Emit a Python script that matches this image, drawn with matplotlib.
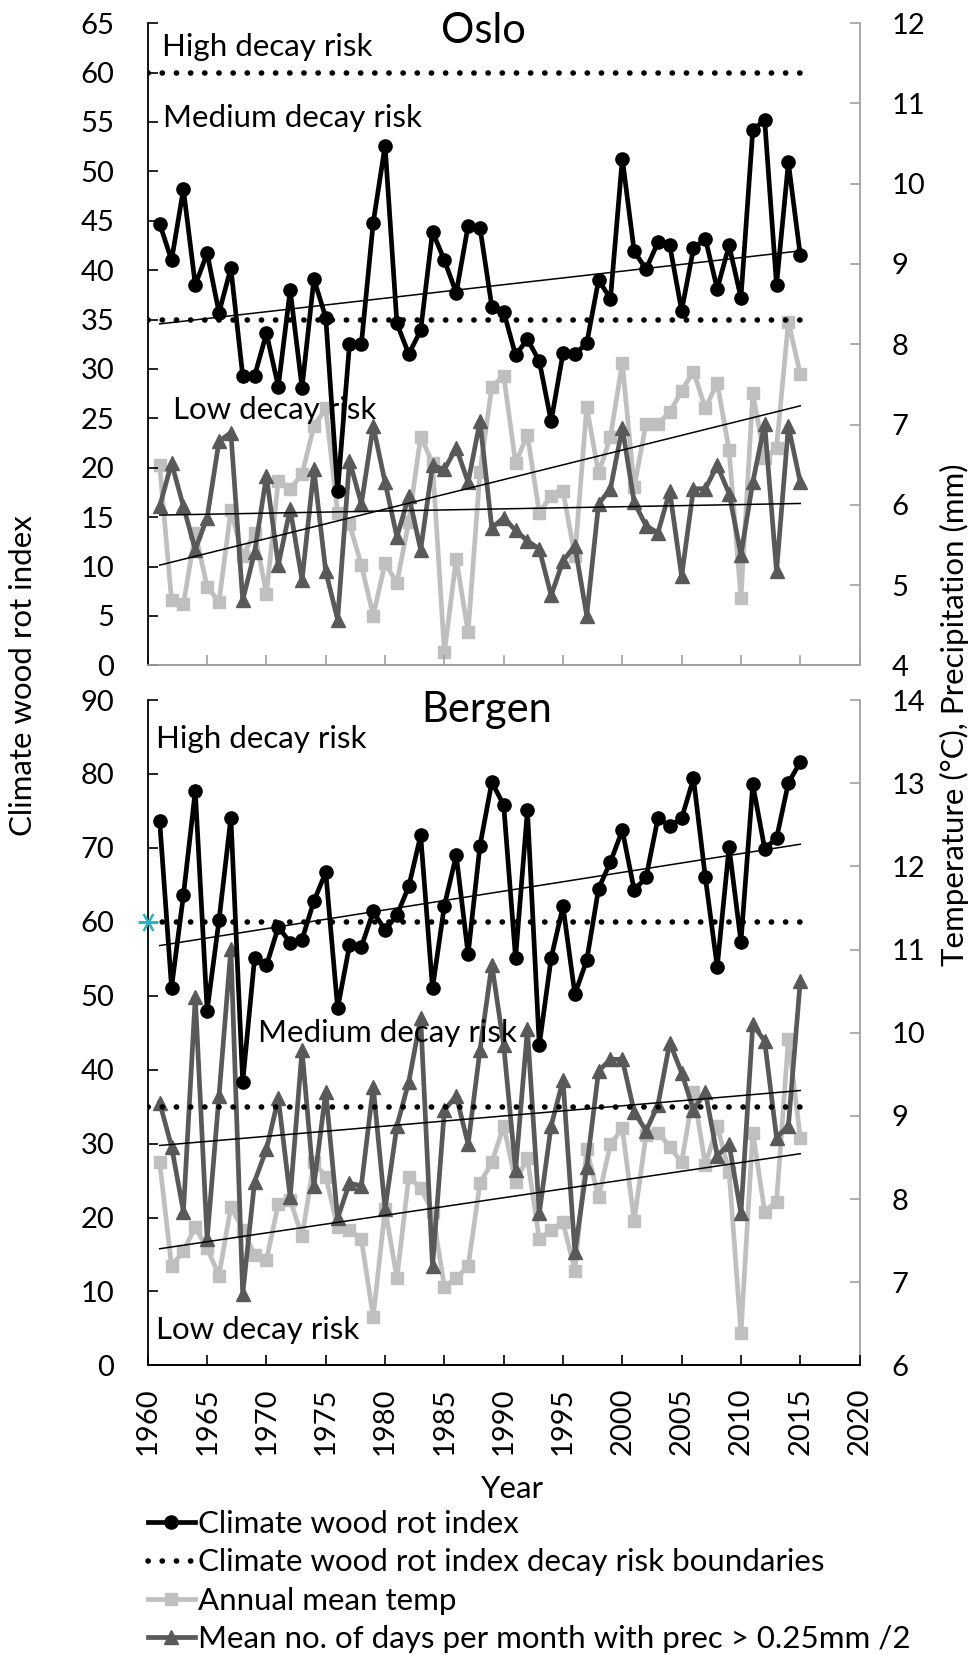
import numpy as np
import matplotlib
matplotlib.use("Agg")
import matplotlib.pyplot as plt
from matplotlib.lines import Line2D

plt.rcParams["font.family"] = ["Lato", "DejaVu Sans"]

years = list(range(1961, 2016))

# Oslo
oslo_cwri = [44.7, 41.0, 48.2, 38.5, 41.7, 35.7, 40.2, 29.3, 29.3, 33.6,
             28.2, 38.0, 28.1, 39.1, 35.2, 17.6, 32.5, 32.5, 44.8, 52.6,
             34.6, 31.5, 33.9, 43.9, 41.0, 37.7, 44.5, 44.3, 36.3, 35.8,
             31.4, 33.0, 30.8, 24.7, 31.6, 31.5, 32.6, 39.0, 37.1, 51.3,
             41.9, 40.1, 42.8, 42.5, 35.9, 42.2, 43.2, 38.1, 42.5, 37.2,
             54.2, 55.2, 38.5, 50.9, 41.5]
oslo_temp = [6.49, 4.81, 4.76, 5.65, 4.98, 4.79, 5.93, 5.36, 5.65, 4.89,
             6.30, 6.20, 6.38, 6.98, 7.20, 5.90, 5.76, 5.25, 4.62, 5.27,
             5.03, 5.79, 6.85, 6.52, 4.16, 5.33, 4.41, 6.41, 7.47, 7.61,
             6.52, 6.87, 5.90, 6.11, 6.17, 5.36, 7.22, 6.39, 6.85, 7.77,
             6.22, 7.01, 7.01, 7.15, 7.42, 7.66, 7.20, 7.52, 6.68, 4.84,
             7.39, 6.58, 6.71, 8.28, 7.63]
oslo_prec = [5.98, 6.52, 5.98, 5.44, 5.84, 6.79, 6.90, 4.81, 5.41, 6.36,
             5.25, 5.95, 5.06, 6.44, 5.17, 4.57, 6.55, 6.01, 6.98, 6.28,
             5.60, 6.11, 5.44, 6.49, 6.44, 6.71, 6.28, 7.04, 5.71, 5.84,
             5.68, 5.55, 5.45, 4.87, 5.30, 5.49, 4.62, 6.01, 6.20, 6.96,
             6.03, 5.74, 5.65, 6.17, 5.11, 6.20, 6.20, 6.49, 6.14, 5.38,
             6.28, 7.01, 5.17, 6.98, 6.28]

# Bergen
bergen_cwri = [73.6, 51.1, 63.6, 77.7, 48.0, 60.2, 74.1, 38.3, 55.1, 54.1,
               59.3, 57.2, 57.6, 62.8, 66.7, 48.3, 56.8, 56.6, 61.4, 58.9,
               60.9, 64.8, 71.7, 51.0, 62.2, 69.0, 55.6, 70.3, 78.9, 75.8,
               55.1, 75.1, 43.3, 55.1, 62.1, 50.2, 54.8, 64.5, 68.1, 72.4,
               64.3, 66.0, 74.0, 73.0, 74.0, 79.4, 66.0, 53.9, 70.1, 57.3,
               78.6, 69.9, 71.3, 78.8, 81.6]
bergen_temp = [8.44, 7.19, 7.38, 7.66, 7.41, 7.08, 7.91, 7.63, 7.33, 7.27,
               7.94, 7.99, 7.55, 8.44, 8.27, 7.66, 7.63, 7.52, 6.58, 7.88,
               7.05, 8.27, 8.13, 7.85, 6.94, 7.05, 7.19, 8.19, 8.44, 8.88,
               8.21, 8.49, 7.52, 7.63, 7.72, 7.14, 8.60, 8.02, 8.66, 8.85,
               7.74, 8.77, 8.80, 8.63, 8.44, 9.29, 8.41, 8.88, 8.33, 6.39,
               8.80, 7.85, 7.97, 9.93, 8.74]
bergen_prec = [9.16, 8.63, 7.85, 10.43, 7.52, 9.24, 11.01, 6.86, 8.21, 8.60,
               9.21, 8.02, 9.79, 8.16, 9.29, 7.77, 8.19, 8.16, 9.35, 7.88,
               8.88, 9.41, 10.18, 7.19, 9.07, 9.24, 8.66, 9.79, 10.82, 9.85,
               8.35, 10.04, 7.83, 8.88, 9.43, 7.36, 8.38, 9.54, 9.68, 9.68,
               9.05, 8.82, 9.13, 9.88, 9.52, 9.07, 9.29, 8.52, 8.66, 7.83,
               10.10, 9.90, 8.74, 8.88, 10.62]

risk_bounds = [35, 60]

FS = 22.5      # annotation / legend text
TFS = 21       # tick labels
BLACK = "black"
LIGHT = "#bfbfbf"
DARK = "#595959"
DOTS = (0, (0.05, 2.5))

fig = plt.figure(figsize=(9.79, 16.55), dpi=100)


def trend(ax, x, y):
    k, b = np.polyfit(x, y, 1)
    ax.plot([x[0], x[-1]], [k * x[0] + b, k * x[-1] + b], color="black", lw=1.1, zorder=5)


def panel(rect, cwri, temp, prec, ylim, ystep, rlim, show_x):
    ax = fig.add_axes(rect)
    ax2 = ax.twinx()
    ax.set_zorder(ax2.get_zorder() + 1)
    ax.patch.set_visible(False)

    ax2.plot(years, temp, color=LIGHT, lw=3.4, marker="s", ms=8.5, zorder=2)
    ax2.plot(years, prec, color=DARK, lw=3.4, marker="^", ms=9.5, zorder=3)
    trend(ax2, years, temp)
    trend(ax2, years, prec)

    for b in risk_bounds:
        ax.plot([1960, 2015], [b, b], color="black", lw=4,
                linestyle=DOTS, dash_capstyle="round", zorder=2)
    ax.plot(years, cwri, color=BLACK, lw=3.4, marker="o", ms=9.5, zorder=4)
    trend(ax, years, cwri)

    ax.set_xlim(1960, 2020)
    ax.set_ylim(*ylim)
    ax.set_yticks(np.arange(ylim[0], ylim[1] + 1, ystep))
    ax2.set_ylim(*rlim)
    ax2.set_yticks(np.arange(rlim[0], rlim[1] + 1, 1))
    ax.set_xticks(range(1960, 2021, 5))
    if show_x:
        ax.set_xticklabels([str(y) for y in range(1960, 2021, 5)], rotation=90)
    else:
        ax.set_xticklabels([])

    for a in (ax, ax2):
        a.tick_params(direction="in", length=7, labelsize=TFS, width=1.2)
        for s in a.spines.values():
            s.set_linewidth(1.3)
    ax.tick_params(axis="y", pad=24)
    ax2.tick_params(axis="y", pad=23)
    ax.tick_params(axis="x", pad=16)
    ax.spines["top"].set_visible(False)
    ax2.spines["top"].set_visible(False)
    ax2.spines["right"].set_color("#a0a0a0")
    ax2.spines["left"].set_visible(False)
    ax.spines["right"].set_visible(False)
    if not show_x:
        ax.spines["bottom"].set_color("#a0a0a0")
        ax2.spines["bottom"].set_color("#a0a0a0")
        ax.tick_params(axis="x", color="#a0a0a0")
    ax2.tick_params(axis="y", color="#a0a0a0")
    return ax


ax_o = panel([0.151, 0.598, 0.727, 0.388], oslo_cwri, oslo_temp, oslo_prec,
             (0, 65), 5, (4, 12), False)
ax_o.text(1961.2, 62.6, "High decay risk", fontsize=FS, va="center")
ax_o.text(1961.3, 55.4, "Medium decay risk", fontsize=FS, va="center")
ax_o.text(1962.1, 25.8, "Low decay risk", fontsize=FS, va="center")
ax_o.text(1988.3, 64.2, "Oslo", fontsize=30, ha="center", va="center")

ax_b = panel([0.151, 0.175, 0.727, 0.402], bergen_cwri, bergen_temp, bergen_prec,
             (0, 90), 10, (6, 14), True)
ax_b.text(1960.7, 84.7, "High decay risk", fontsize=FS, va="center")
ax_b.text(1969.3, 45.0, "Medium decay risk", fontsize=FS, va="center")
ax_b.text(1960.7, 4.8, "Low decay risk", fontsize=FS, va="center")
ax_b.text(1988.6, 88.6, "Bergen", fontsize=30, ha="center", va="center")
ax_b.plot([1960], [60], marker=(6, 2, 90), ms=14, color="#2ab5c6", mew=1.5,
          clip_on=False, zorder=10)

fig.text(0.024, 0.592, "Climate wood rot index", rotation=90, fontsize=FS,
         ha="center", va="center")
fig.text(0.975, 0.568, "Temperature (°C), Precipitation (mm)", rotation=90,
         fontsize=FS, ha="center", va="center")
fig.text(0.523, 0.1005, "Year", fontsize=FS, ha="center", va="center")

handles = [
    Line2D([], [], color=BLACK, lw=3.4, marker="o", ms=9.5),
    Line2D([], [], color="black", lw=4, linestyle=DOTS, dash_capstyle="round"),
    Line2D([], [], color=LIGHT, lw=3.4, marker="s", ms=8.5),
    Line2D([], [], color=DARK, lw=3.4, marker="^", ms=9.5),
]
labels = [
    "Climate wood rot index",
    "Climate wood rot index decay risk boundaries",
    "Annual mean temp",
    "Mean no. of days per month with prec > 0.25mm /2",
]
fig.legend(handles, labels, loc="upper left", bbox_to_anchor=(0.151, 0.0875),
           frameon=False, fontsize=FS, handlelength=1.5, handletextpad=0.1,
           labelspacing=0.33, borderpad=0, borderaxespad=0)

fig.savefig("out.png", dpi=100)
